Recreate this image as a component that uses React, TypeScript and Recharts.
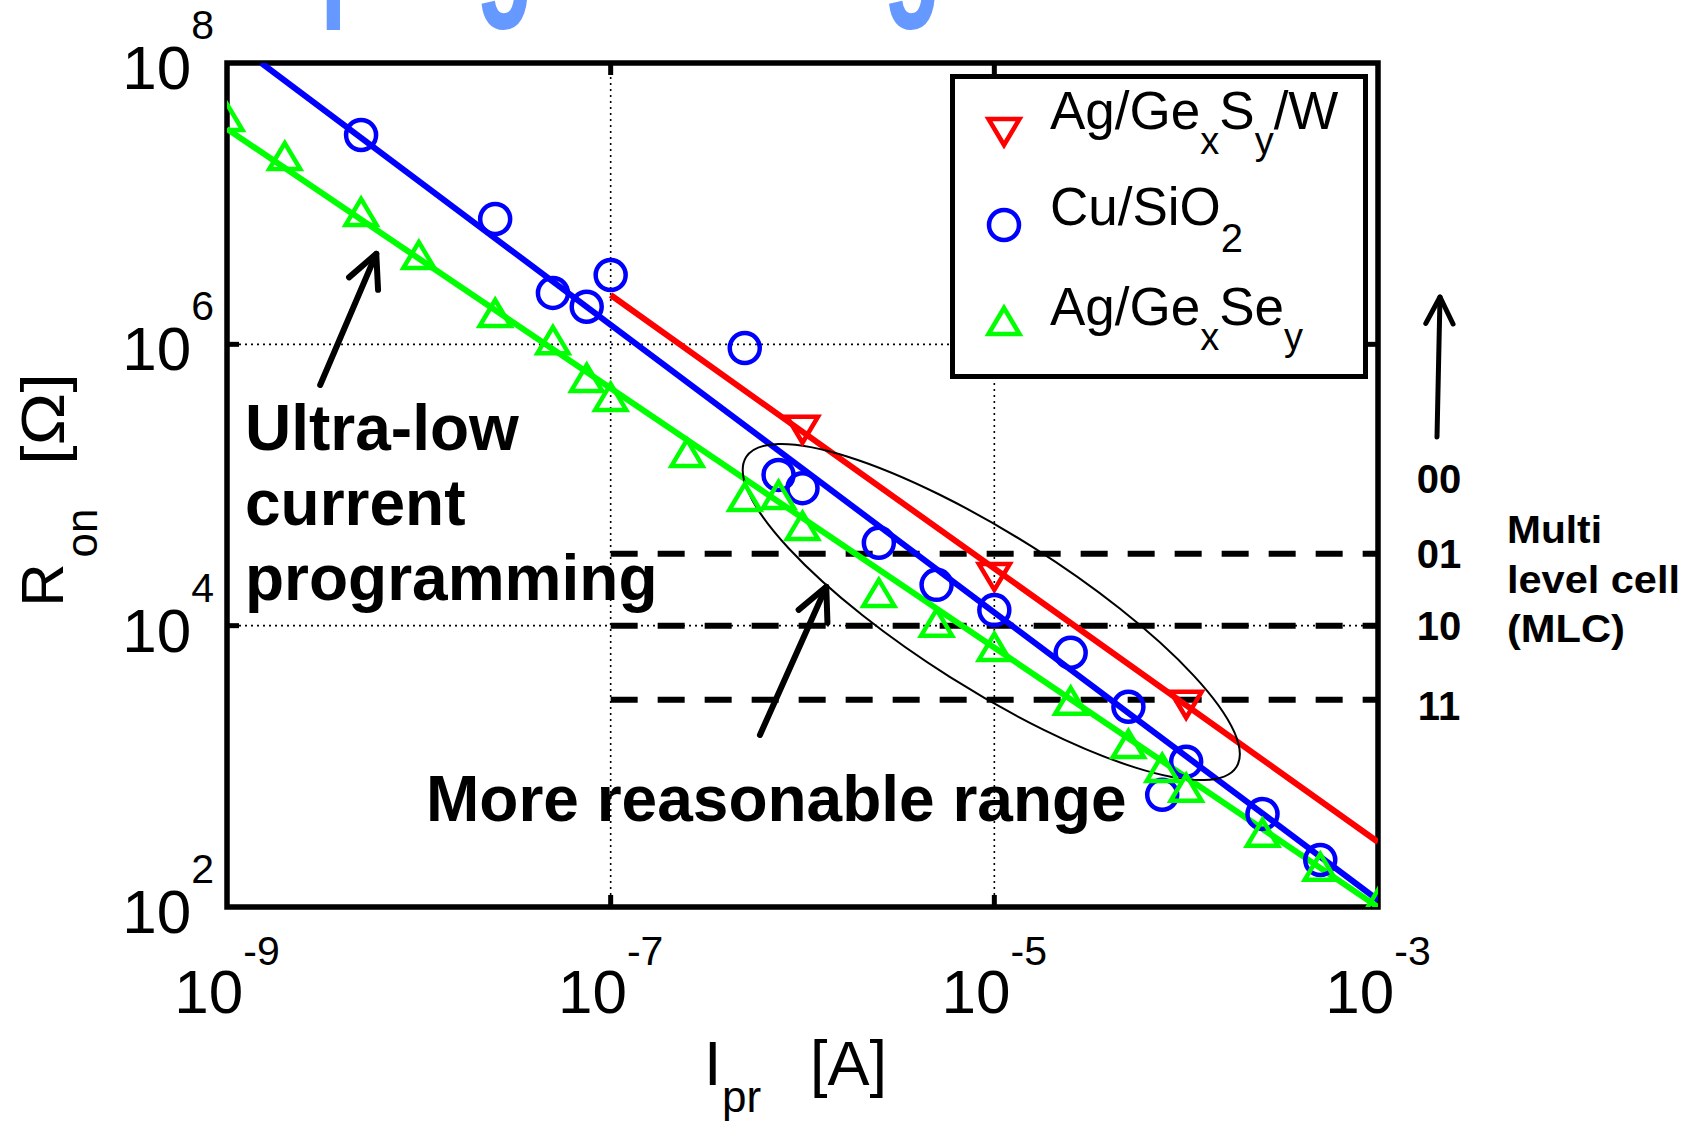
import React from 'react';
import {
  ComposedChart,
  Line,
  Scatter,
  XAxis,
  YAxis,
  ReferenceLine,
  ReferenceArea,
  ReferenceDot,
  Legend,
} from 'recharts';

// ---------------- data ----------------
const X_DOMAIN = [1e-9, 1e-3];
const Y_DOMAIN = [1e2, 1e8];
const X_TICKS = [1e-9, 1e-7, 1e-5, 1e-3];
const X_TICK_EXPONENTS = ['-9', '-7', '-5', '-3'];
const Y_TICKS = [1e2, 1e4, 1e6, 1e8];
const Y_TICK_EXPONENTS = ['2', '4', '6', '8'];
const GRID_X = [1e-7, 1e-5];
const GRID_Y = [1e4, 1e6];

// Cu/SiO2 (blue circles)
const CU_CURRENT = [5e-9, 2.5e-8, 5e-8, 7.5e-8, 1e-7, 5e-7, 7.5e-7, 1e-6, 2.5e-6, 5e-6, 1e-5, 2.5e-5, 5e-5, 7.5e-5, 1e-4, 2.5e-4, 5e-4];
const CU_RON = [3.08e7, 7.78e6, 2.32e6, 1.85e6, 3.11e6, 9.42e5, 1.18e5, 9.5e4, 3.88e4, 1.95e4, 1.29e4, 6.41e3, 2.65e3, 6.27e2, 1.08e3, 4.59e2, 2.16e2];
// Ag/GexSy/W (red down-triangles)
const AGS_CURRENT = [1e-6, 1e-5, 1e-4];
const AGS_RON = [2.47e5, 2.22e4, 2.74e3];
// Ag/GexSey (green up-triangles)
const AGSE_CURRENT = [1e-9, 2e-9, 5e-9, 1e-8, 2.5e-8, 5e-8, 7.5e-8, 1e-7, 2.5e-7, 5e-7, 7.5e-7, 1e-6, 2.5e-6, 5e-6, 1e-5, 2.5e-5, 5e-5, 7.5e-5, 1e-4, 2.5e-4, 5e-4, 1e-3];
const AGSE_RON = [4.13e7, 2.18e7, 8.73e6, 4.31e6, 1.67e6, 1.07e6, 5.77e5, 4.23e5, 1.69e5, 8.2e4, 8.5e4, 5.12e4, 1.71e4, 1.05e4, 7.06e3, 2.92e3, 1.44e3, 9.75e2, 7.03e2, 3.37e2, 1.93e2, 1.07e2];

// fit lines (end points)
const CU_FIT_CURRENT = [1.51e-9, 1e-3];
const CU_FIT_RON = [1e8, 112];
const AGS_FIT_CURRENT = [1e-7, 1e-3];
const AGS_FIT_RON = [2.24e6, 290];
const AGSE_FIT_CURRENT = [1e-9, 1e-3];
const AGSE_FIT_RON = [3.4e7, 1e2];

// multi-level cell levels
const MLC_LABELS = ['00', '01', '10', '11'];
const MLC_LABEL_RON = [1.1e5, 3.24e4, 1e4, 2.7e3];
const MLC_DASHED_RON = [3.24e4, 1e4, 2.97e3];
const MLC_DASH_FROM = 1e-7;
const MLC_DASH_TO = 1e-3;

// annotations (data coordinates)
const ARROW_ULTRA_CURRENT = [3.06e-9, 6.0e-9];
const ARROW_ULTRA_RON = [5.14e5, 4.4e6];
const ARROW_RANGE_CURRENT = [6.0e-7, 1.33e-6];
const ARROW_RANGE_RON = [1.67e3, 1.89e4];
const ELLIPSE_CURRENT = 9.64e-6;
const ELLIPSE_RON = 1.25e4;

// ---------------- helpers ----------------
const zip = (xs: number[], ys: number[]) => xs.map((x, i) => ({ x, y: ys[i] }));
const cuData = zip(CU_CURRENT, CU_RON);
const agsData = zip(AGS_CURRENT, AGS_RON);
const agseData = zip(AGSE_CURRENT, AGSE_RON);
const cuFit = zip(CU_FIT_CURRENT, CU_FIT_RON);
const agsFit = zip(AGS_FIT_CURRENT, AGS_FIT_RON);
const agseFit = zip(AGSE_FIT_CURRENT, AGSE_FIT_RON);
const arrowUltra = zip(ARROW_ULTRA_CURRENT, ARROW_ULTRA_RON);
const arrowRange = zip(ARROW_RANGE_CURRENT, ARROW_RANGE_RON);

const W = 1700;
const H = 1123;
const PLOT = { left: 227, top: 63, right: 1378, bottom: 907 };
const FONT = '"Liberation Sans", Arial, Helvetica, sans-serif';
const BLUE = '#0000ff';
const RED = '#ff0000';
const GREEN = '#00ff00';

const MARK_SW = 4.5;
const LINE_SW = 6;
const circleShape = (cx: number, cy: number, color: string) => (
  <circle cx={cx} cy={cy} r={15} fill="none" stroke={color} strokeWidth={MARK_SW} />
);
const triUpShape = (cx: number, cy: number, color: string) => {
  const w = 31, h = 26;
  return (
    <polygon
      points={`${cx},${cy - h / 2} ${cx - w / 2},${cy + h / 2} ${cx + w / 2},${cy + h / 2}`}
      fill="none" stroke={color} strokeWidth={MARK_SW} strokeLinejoin="miter"
    />
  );
};
const triDownShape = (cx: number, cy: number, color: string) => {
  const w = 31, h = 26;
  return (
    <polygon
      points={`${cx},${cy + h / 2} ${cx - w / 2},${cy - h / 2} ${cx + w / 2},${cy - h / 2}`}
      fill="none" stroke={color} strokeWidth={MARK_SW} strokeLinejoin="miter"
    />
  );
};

const arrowHead = (x1: number, y1: number, x2: number, y2: number, len: number, half: number, sw: number) => {
  const ang = Math.atan2(y2 - y1, x2 - x1);
  const a = (half * Math.PI) / 180;
  const hx1 = x2 - len * Math.cos(ang - a);
  const hy1 = y2 - len * Math.sin(ang - a);
  const hx2 = x2 - len * Math.cos(ang + a);
  const hy2 = y2 - len * Math.sin(ang + a);
  return (
    <g>
      <line x1={x1} y1={y1} x2={x2} y2={y2} stroke="#000" strokeWidth={sw} strokeLinecap="round" />
      <polyline
        points={`${hx1},${hy1} ${x2},${y2} ${hx2},${hy2}`}
        fill="none" stroke="#000" strokeWidth={sw} strokeLinecap="round" strokeLinejoin="round"
      />
    </g>
  );
};

const ArrowLineShape = (p: any) => arrowHead(p.x1, p.y1, p.x2, p.y2, 36, 26, 6);

const XTick = (props: any) => {
  const { x, index } = props;
  const inner = index > 0 && index < X_TICKS.length - 1;
  return (
    <g>
      {inner && <line x1={x} x2={x} y1={PLOT.bottom} y2={PLOT.bottom - 12} stroke="#000" strokeWidth={5} />}
      {inner && <line x1={x} x2={x} y1={PLOT.top} y2={PLOT.top + 12} stroke="#000" strokeWidth={5} />}
      <text x={x} y={1013} textAnchor="middle" fontFamily={FONT} fontSize={62} fill="#000">
        10
        <tspan dy={-48} fontSize={41}>{X_TICK_EXPONENTS[index]}</tspan>
      </text>
    </g>
  );
};

const YTick = (props: any) => {
  const { y, index } = props;
  const inner = index > 0 && index < Y_TICKS.length - 1;
  return (
    <g>
      {inner && <line x1={PLOT.left} x2={PLOT.left + 12} y1={y} y2={y} stroke="#000" strokeWidth={5} />}
      {inner && <line x1={PLOT.right} x2={PLOT.right - 12} y1={y} y2={y} stroke="#000" strokeWidth={5} />}
      <text x={214} y={y + 26} textAnchor="end" fontFamily={FONT} fontSize={62} fill="#000">
        10
        <tspan dy={-50} fontSize={41}>{Y_TICK_EXPONENTS[index]}</tspan>
      </text>
    </g>
  );
};

const LegendBox = () => (
  <svg width={418} height={305} style={{ display: 'block' }}>
    <rect x={2.5} y={2.5} width={413} height={300} fill="#fff" stroke="#000" strokeWidth={5} />
    {triDownShape(54, 58, RED)}
    {circleShape(54, 151, BLUE)}
    {triUpShape(54, 247, GREEN)}
    <text x={100} y={55} fontFamily={FONT} fontSize={53} fill="#000">
      Ag/Ge
      <tspan fontSize={38} dy={25}>x</tspan>
      <tspan fontSize={53} dy={-25}>S</tspan>
      <tspan fontSize={38} dy={25}>y</tspan>
      <tspan fontSize={53} dy={-25}>/W</tspan>
    </text>
    <text x={100} y={151} fontFamily={FONT} fontSize={53} fill="#000">
      Cu/SiO
      <tspan fontSize={40} dy={27}>2</tspan>
    </text>
    <text x={100} y={251} fontFamily={FONT} fontSize={53} fill="#000">
      Ag/Ge
      <tspan fontSize={38} dy={25}>x</tspan>
      <tspan fontSize={53} dy={-25}>Se</tspan>
      <tspan fontSize={38} dy={25}>y</tspan>
    </text>
  </svg>
);

export default function App() {
  return (
    <div style={{ position: 'absolute', left: 0, top: 0, width: W, height: H, background: '#fff', overflow: 'hidden' }}>
      <ComposedChart width={W} height={H} margin={{ top: 63, right: 322, bottom: 66, left: 67 }}>
        <XAxis
          dataKey="x" type="number" scale="log" domain={X_DOMAIN} ticks={X_TICKS}
          allowDataOverflow interval={0} height={150} axisLine={false} tickLine={false} tick={<XTick />}
        />
        <YAxis
          dataKey="y" type="number" scale="log" domain={Y_DOMAIN} ticks={Y_TICKS}
          allowDataOverflow interval={0} width={160} axisLine={false} tickLine={false} tick={<YTick />}
        />
        {GRID_X.map((g) => (
          <ReferenceLine key={`gx${g}`} x={g} stroke="#000" strokeWidth={1.6} strokeDasharray="2 4" />
        ))}
        {GRID_Y.map((g) => (
          <ReferenceLine key={`gy${g}`} y={g} stroke="#000" strokeWidth={1.6} strokeDasharray="2 4" />
        ))}
        {MLC_DASHED_RON.map((r) => (
          <ReferenceLine
            key={`mlc${r}`}
            segment={[{ x: MLC_DASH_FROM, y: r }, { x: MLC_DASH_TO, y: r }]}
            stroke="#000" strokeWidth={6} strokeDasharray="27 20"
          />
        ))}
        <ReferenceArea
          x1={X_DOMAIN[0]} x2={X_DOMAIN[1]} y1={Y_DOMAIN[0]} y2={Y_DOMAIN[1]}
          fill="none" fillOpacity={0} stroke="#000" strokeWidth={5.5}
        />
        <ReferenceDot
          x={ELLIPSE_CURRENT} y={ELLIPSE_RON} ifOverflow="visible"
          shape={(p: any) => (
            <ellipse
              cx={p.cx} cy={p.cy} rx={290} ry={77}
              transform={`rotate(32.3 ${p.cx} ${p.cy})`}
              fill="none" stroke="#000" strokeWidth={2}
            />
          )}
        />
        <ReferenceLine segment={arrowUltra} shape={ArrowLineShape} />
        <ReferenceLine segment={arrowRange} shape={ArrowLineShape} />
        {MLC_LABELS.map((lab, i) => (
          <ReferenceDot
            key={`lab${lab}`} x={X_DOMAIN[1]} y={MLC_LABEL_RON[i]} ifOverflow="visible"
            shape={(p: any) => (
              <text x={p.cx + 61} y={p.cy + 14} textAnchor="middle" fontFamily={FONT}
                fontWeight="bold" fontSize={40} fill="#000">{lab}</text>
            )}
          />
        ))}

        <Line data={agsFit} dataKey="y" type="linear" stroke={RED} strokeWidth={LINE_SW} dot={false} activeDot={false} isAnimationActive={false} legendType="none" />
        <Line data={cuFit} dataKey="y" type="linear" stroke={BLUE} strokeWidth={LINE_SW} dot={false} activeDot={false} isAnimationActive={false} legendType="none" />
        <Line data={agseFit} dataKey="y" type="linear" stroke={GREEN} strokeWidth={LINE_SW} dot={false} activeDot={false} isAnimationActive={false} legendType="none" />

        <Scatter name="Ag/GexSy/W" data={agsData} dataKey="y" isAnimationActive={false}
          shape={(p: any) => triDownShape(p.cx, p.cy, RED)} />
        <Scatter name="Cu/SiO2" data={cuData} dataKey="y" isAnimationActive={false}
          shape={(p: any) => circleShape(p.cx, p.cy, BLUE)} />
        <Scatter name="Ag/GexSey" data={agseData} dataKey="y" isAnimationActive={false}
          shape={(p: any) => triUpShape(p.cx, p.cy, GREEN)} />

        <Legend
          layout="horizontal" verticalAlign="middle" align="center"
          wrapperStyle={{ position: 'absolute', left: 950, top: 74, width: 418, height: 305, margin: 0, padding: 0, lineHeight: 0 }}
          content={() => <LegendBox />}
        />
      </ComposedChart>

      <svg width={W} height={H} style={{ position: 'absolute', left: 0, top: 0, pointerEvents: 'none' }}>
        {/* cut-off slide title: only the descenders remain visible */}
        <text x={320} y={-9} fontFamily={FONT} fontWeight="bold" fontSize={185} fill="#6699ff"
          textLength={622} lengthAdjust="spacingAndGlyphs">programming</text>

        {/* y axis label */}
        <text x={63} y={585} transform="rotate(-90 63 585)" textAnchor="middle" fontFamily={FONT} fontSize={60} fill="#000">R</text>
        <text x={97} y={533} transform="rotate(-90 97 533)" textAnchor="middle" fontFamily={FONT} fontSize={44} fill="#000">on</text>
        <text x={64} y={419} transform="rotate(-90 64 419)" textAnchor="middle" fontFamily={FONT} fontSize={62} fill="#000"
          textLength={92} lengthAdjust="spacingAndGlyphs">[Ω]</text>

        {/* x axis label */}
        <text x={704} y={1085} fontFamily={FONT} fontSize={63} fill="#000">I</text>
        <text x={722} y={1112} fontFamily={FONT} fontSize={44} fill="#000">pr</text>
        <text x={810} y={1085} fontFamily={FONT} fontSize={63} fill="#000">[A]</text>

        {/* annotations */}
        <g fontFamily={FONT} fontWeight="bold" fontSize={64} fill="#000">
          <text x={245} y={450}>Ultra-low</text>
          <text x={245} y={525}>current</text>
          <text x={245} y={600}>programming</text>
          <text x={426} y={821}>More reasonable range</text>
        </g>

        {/* multi level cell note */}
        {arrowHead(1437, 437, 1440, 297, 30, 27, 5)}
        <g fontFamily={FONT} fontWeight="bold" fontSize={39} fill="#000">
          <text x={1507} y={543} textLength={95} lengthAdjust="spacingAndGlyphs">Multi</text>
          <text x={1507} y={593} textLength={173} lengthAdjust="spacingAndGlyphs">level cell</text>
          <text x={1507} y={642} textLength={118} lengthAdjust="spacingAndGlyphs">(MLC)</text>
        </g>
      </svg>
    </div>
  );
}
